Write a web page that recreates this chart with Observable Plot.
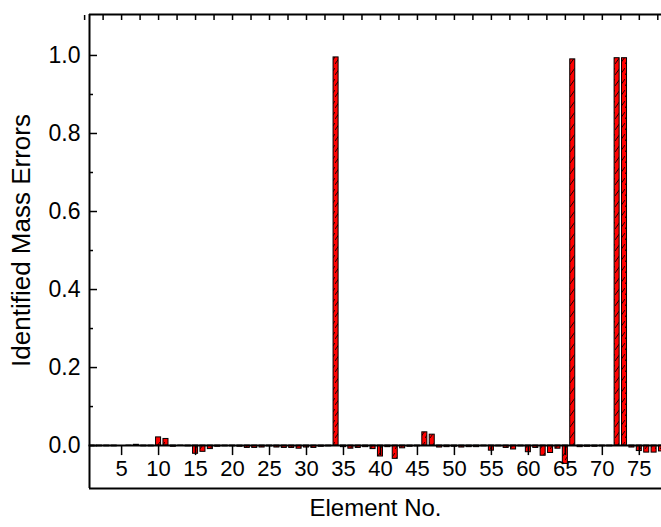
<!DOCTYPE html>
<html>
<head>
<meta charset="utf-8">
<script src="https://cdn.jsdelivr.net/npm/d3@7"></script>
<script src="https://cdn.jsdelivr.net/npm/@observablehq/plot@0.6"></script>
<style>
  html, body { margin: 0; padding: 0; background: #fff; }
</style>
</head>
<body>
<div id="chart"></div>
<script>
// Element numbers 1..78 and their identified mass errors
const elements = d3.range(1, 79);
const massErrors = [
  -0.002, -0.002, -0.002, -0.002, 0.000, -0.001, 0.002, -0.002, -0.002, 0.021,
  0.017, -0.003, -0.001, -0.002, -0.021, -0.016, -0.009, -0.003, -0.002, -0.002,
  -0.003, -0.006, -0.006, -0.005, -0.002, -0.005, -0.006, -0.006, -0.008, -0.005,
  -0.006, -0.003, -0.002, 0.995, -0.004, -0.008, -0.006, -0.004, -0.009, -0.028,
  -0.004, -0.034, -0.007, -0.003, -0.002, 0.034, 0.028, -0.005, -0.004, -0.003,
  -0.005, -0.004, -0.004, -0.002, -0.013, -0.002, -0.006, -0.010, -0.002, -0.017,
  -0.006, -0.026, -0.019, -0.008, -0.047, 0.990, -0.004, -0.003, -0.003, -0.002,
  -0.002, 0.993, 0.993, -0.005, -0.014, -0.018, -0.018, -0.015
];
const xTicks = [5, 10, 15, 20, 25, 30, 35, 40, 45, 50, 55, 60, 65, 70, 75];
const xTopTicks = d3.range(0, 80, 2.5);
const yTicks = [0.0, 0.2, 0.4, 0.6, 0.8, 1.0];
const yMinorTicks = [0.1, 0.3, 0.5, 0.7, 0.9];

const data = elements.map((el, i) => ({el, v: massErrors[i]}));

const xDomain = [0.66, 78];
const yDomain = [-0.11, 1.105];
const W = 661, H = 527;
const M = {top: 14, right: 0, bottom: 39, left: 89};
const barHalf = 0.34;

// pixel offset of the y = 0 baseline above the frame bottom
const plotH = H - M.top - M.bottom;
const zeroFromBottom = (0 - yDomain[0]) / (yDomain[1] - yDomain[0]) * plotH;

const chart = Plot.plot({
  width: W,
  height: H,
  marginTop: M.top,
  marginRight: M.right,
  marginBottom: M.bottom,
  marginLeft: M.left,
  x: {domain: xDomain},
  y: {domain: yDomain},
  style: {fontFamily: "'Liberation Sans', Arial, sans-serif", fontSize: "22px", color: "black", background: "white"},
  marks: [
    Plot.rect(data, {
      x1: d => d.el - barHalf,
      x2: d => d.el + barHalf,
      y1: 0,
      y2: "v",
      fill: "url(#hatch)",
      stroke: "black",
      strokeWidth: 1
    }),
    Plot.ruleY([0], {stroke: "black", strokeWidth: 2}),
    // frame: left, bottom, top
    Plot.ruleX([xDomain[0]], {stroke: "black", strokeWidth: 2}),
    Plot.ruleY([yDomain[0], yDomain[1]], {stroke: "black", strokeWidth: 2}),
    // y axis labels and inward ticks
    Plot.axisY({ticks: yTicks, tickSize: 0, tickPadding: 9, tickFormat: d3.format(".1f"), label: null, fontSize: 23}),
    Plot.axisY({ticks: yTicks, tickSize: -8, tickFormat: () => "", label: null, strokeWidth: 1.5}),
    Plot.axisY({ticks: yMinorTicks, tickSize: -4, tickFormat: () => "", label: null, strokeWidth: 1.5}),
    // x axis drawn on the zero line
    Plot.axisX({anchor: "bottom", ticks: xTicks, tickSize: 10, tickPadding: 5, dy: -zeroFromBottom, label: null, fontSize: 22, strokeWidth: 1.5}),
    // top edge ticks
    Plot.axisX({anchor: "top", ticks: xTopTicks, tickSize: -5, tickFormat: () => "", label: null, strokeWidth: 1.5}),
    // axis titles
    Plot.text(["Element No."], {text: d => d, frameAnchor: "bottom", dy: 20, lineAnchor: "middle", fontSize: 24}),
    Plot.text(["Identified Mass Errors"], {text: d => d, frameAnchor: "left", textAnchor: "middle", rotate: -90, dx: -68, dy: -11, lineAnchor: "middle", fontSize: 26})
  ]
});

// red fill with thin black diagonal hatching for the bars
const defs = document.createElementNS("http://www.w3.org/2000/svg", "defs");
defs.innerHTML = `
  <pattern id="hatch" patternUnits="userSpaceOnUse" width="5" height="11">
    <rect width="5" height="11" fill="#ff0000"></rect>
    <path d="M0,9 L5,2" stroke="#000" stroke-width="0.9"></path>
  </pattern>`;
chart.insertBefore(defs, chart.firstChild);

document.getElementById("chart").appendChild(chart);
</script>
</body>
</html>
